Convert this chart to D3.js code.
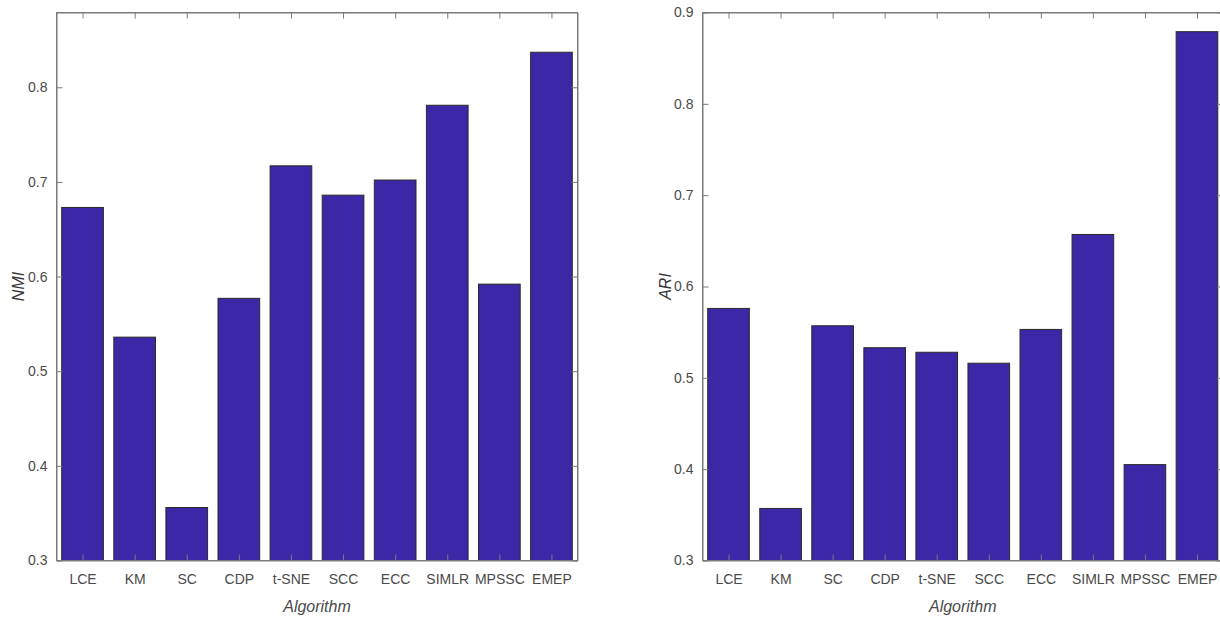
<!DOCTYPE html>
<html><head><meta charset="utf-8">
<script src="https://cdn.jsdelivr.net/npm/d3@7"></script>
<style>body{margin:0;background:#fff;overflow:hidden}svg{display:block}text{font-family:"Liberation Sans",Arial,sans-serif}</style>
</head><body><svg id="c" width="1220" height="621"></svg>
<script>
const categories = ["LCE","KM","SC","CDP","t-SNE","SCC","ECC","SIMLR","MPSSC","EMEP"];
const nmiValues = [0.673,0.536,0.356,0.577,0.717,0.686,0.702,0.781,0.592,0.837];
const ariValues = [0.576,0.357,0.557,0.533,0.528,0.516,0.553,0.657,0.405,0.879];
const nmiTicks = [0.3,0.4,0.5,0.6,0.7,0.8];
const ariTicks = [0.3,0.4,0.5,0.6,0.7,0.8,0.9];

const svg = d3.select("#c");
const axisColor = "#7a7a7a", textColor = "#4a4a4a";

function panel(opt){
  const g = svg.append("g");
  const x = d3.scaleBand().domain(categories).range([opt.x0, opt.x1]).paddingInner(0.2).paddingOuter(0.1);
  const xc = d3.scalePoint().domain(categories).range([opt.x0, opt.x1]).padding(0.5);
  const y = d3.scaleLinear().domain(opt.domain).range([opt.y1, opt.y0]);
  g.selectAll("rect.bar").data(opt.values).join("rect")
    .attr("x",(d,i)=>x(categories[i])).attr("width",x.bandwidth())
    .attr("y",d=>y(d)).attr("height",d=>y(opt.domain[0])-y(d))
    .attr("fill","#3c27a7").attr("stroke","#2a2a2a").attr("stroke-width",1);
  const bottom = g.append("g").attr("transform",`translate(0,${opt.y1})`)
    .call(d3.axisBottom(xc).tickSizeInner(-6).tickSizeOuter(0).tickPadding(14));
  const top = g.append("g").attr("transform",`translate(0,${opt.y0})`)
    .call(d3.axisTop(xc).tickSizeInner(-6).tickSizeOuter(0).tickFormat(""));
  const left = g.append("g").attr("transform",`translate(${opt.x0},0)`)
    .call(d3.axisLeft(y).tickValues(opt.ticks).tickFormat(d3.format(".1f")).tickSizeInner(-6).tickSizeOuter(0).tickPadding(9));
  const right = g.append("g").attr("transform",`translate(${opt.x1},0)`)
    .call(d3.axisRight(y).tickValues(opt.ticks).tickSizeInner(-6).tickSizeOuter(0).tickFormat(""));
  [bottom,top,left,right].forEach(a=>{
    a.select(".domain").attr("stroke",axisColor);
    a.selectAll(".tick line").attr("stroke",axisColor);
    a.selectAll(".tick text").attr("fill",textColor).style("font-size","14px");
  });
  g.append("rect").attr("x",opt.x0).attr("y",opt.y0).attr("width",opt.x1-opt.x0).attr("height",opt.y1-opt.y0)
    .attr("fill","none").attr("stroke",axisColor).attr("stroke-width",1);
  g.append("text").attr("x",(opt.x0+opt.x1)/2).attr("y",612).attr("text-anchor","middle")
    .attr("fill",textColor).style("font-size","16px").style("font-style","italic").text("Algorithm");
  g.append("text").attr("transform",`translate(${opt.ylx},${(opt.y0+opt.y1)/2}) rotate(-90)`)
    .attr("text-anchor","middle").attr("fill","#333").style("font-size","16px").style("font-style","italic").text(opt.label);
}

panel({x0:56.5,x1:577.5,y0:12.5,y1:560.5,domain:[0.3,0.879],values:nmiValues,ticks:nmiTicks,label:"NMI",ylx:24});
panel({x0:702.5,x1:1223,y0:12.5,y1:560.5,domain:[0.3,0.9],values:ariValues,ticks:ariTicks,label:"ARI",ylx:671});
</script></body></html>
